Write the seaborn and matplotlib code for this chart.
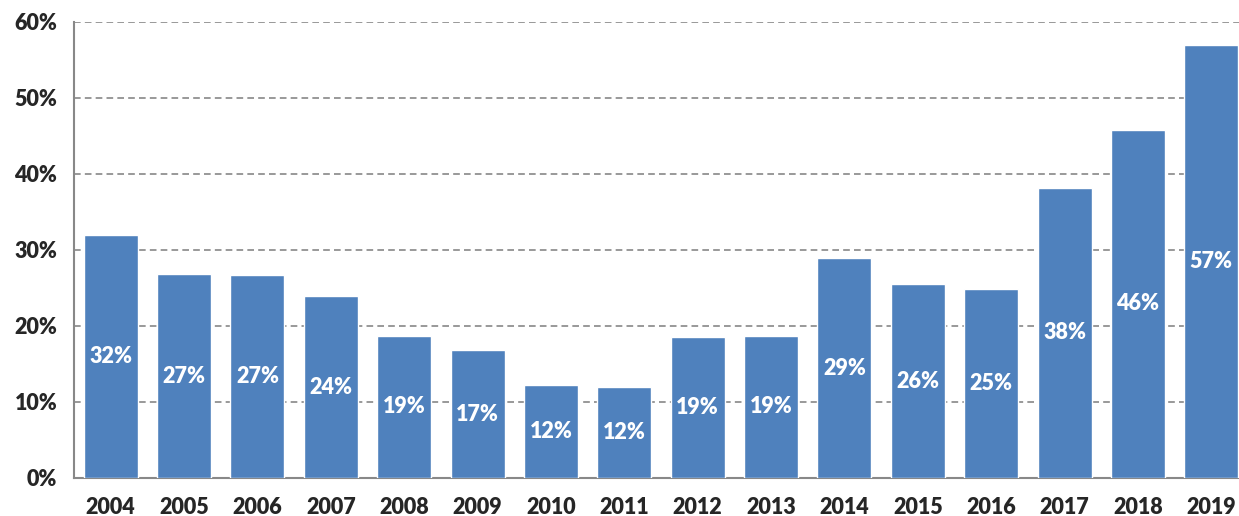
import matplotlib.pyplot as plt
import seaborn as sns
import pandas as pd

# values (share, %)
years = ['2004', '2005', '2006', '2007', '2008', '2009', '2010', '2011',
         '2012', '2013', '2014', '2015', '2016', '2017', '2018', '2019']
share = [32.0, 26.8, 26.7, 23.9, 18.7, 16.8, 12.2, 12.0,
         18.6, 18.7, 28.9, 25.5, 24.9, 38.2, 45.8, 57.0]
labels = ['32%', '27%', '27%', '24%', '19%', '17%', '12%', '12%',
          '19%', '19%', '29%', '26%', '25%', '38%', '46%', '57%']

df = pd.DataFrame({'Year': years, 'Share': share})

sns.set_style('white')
plt.rcParams['font.family'] = ['Lato', 'DejaVu Sans']

fig = plt.figure(figsize=(12.39, 5.16), dpi=100)
# plot area runs a bit past the right edge, so the last bar is cut like in the original
ax = fig.add_axes([74 / 1239, 1 - 478 / 516, 1174 / 1239, (478 - 22) / 516])

sns.barplot(data=df, x='Year', y='Share', color='#4F81BD', saturation=1,
            width=0.735, ax=ax, zorder=3)

# white labels in the middle of each bar
for i, (v, t) in enumerate(zip(share, labels)):
    ax.text(i, v / 2, t, ha='center', va='center', color='white',
            fontsize=15.5, fontweight='heavy', zorder=4)

ax.set_xlim(-0.5, 15.5)
ax.set_ylim(0, 60)
ax.set_yticks(range(0, 61, 10))
ax.set_yticklabels([f'{v}%' for v in range(0, 61, 10)])
ax.set_xlabel('')
ax.set_ylabel('')

ax.yaxis.grid(True, linestyle=(0, (4, 2.5)), color='#888888', linewidth=1.2, zorder=0)
ax.set_axisbelow(True)

for s in ['top', 'right']:
    ax.spines[s].set_visible(False)
for s in ['left', 'bottom']:
    ax.spines[s].set_color('#888888')
    ax.spines[s].set_linewidth(1.5)

# tick marks between categories, labels centred under bars
ax.set_xticks([i - 0.5 for i in range(17)], minor=True)
ax.tick_params(axis='x', which='major', length=0, pad=14, labelsize=15.5)
ax.tick_params(axis='x', which='minor', length=6, width=1.5, color='#888888', direction='out')
ax.tick_params(axis='y', length=6, width=1.5, color='#888888', direction='out', pad=6, labelsize=15.5)
for lab in ax.get_xticklabels() + ax.get_yticklabels():
    lab.set_fontweight('heavy')

fig.savefig('out.png', dpi=100)
